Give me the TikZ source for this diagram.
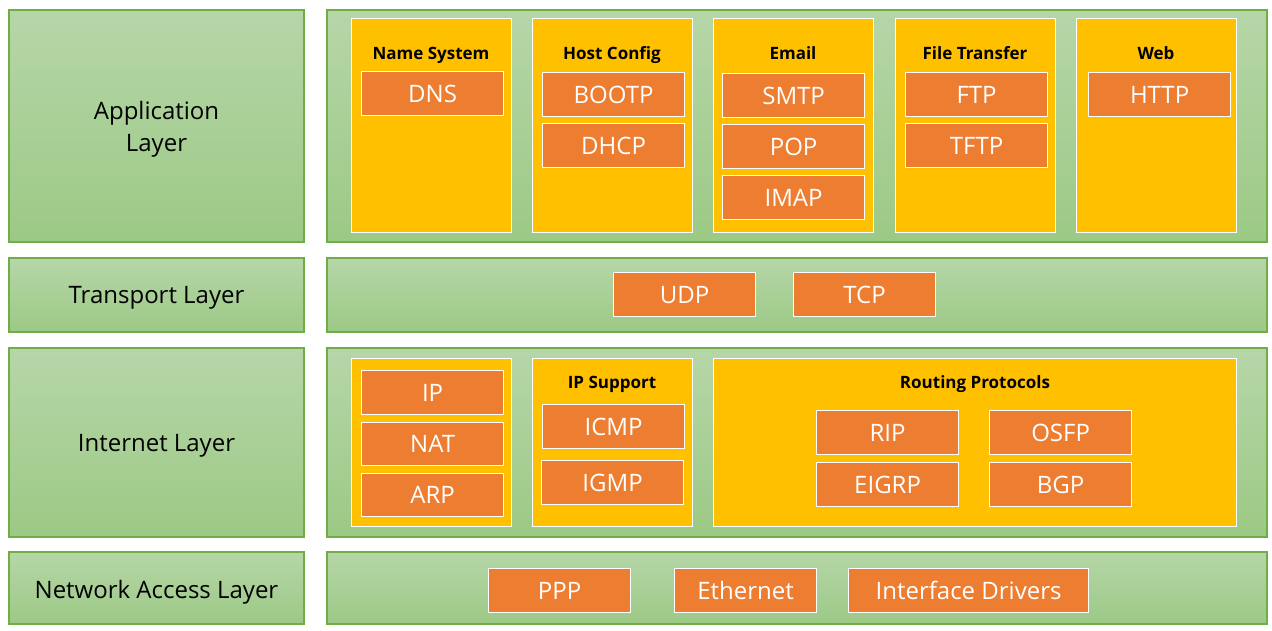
\documentclass[tikz,border=0pt]{standalone}
\usepackage{fontspec}
\setmainfont{Open Sans}
\definecolor{lgreen}{HTML}{70AD47}
\definecolor{gtop}{HTML}{B6D6A8}
\definecolor{gbot}{HTML}{9CC985}
\definecolor{ayellow}{HTML}{FFC000}
\definecolor{aorange}{HTML}{ED7D31}
\tikzset{
  layer/.style={draw=lgreen, line width=2pt, top color=gtop, bottom color=gbot, anchor=north west, inner sep=0pt},
  ltext/.style={inner sep=0pt, align=center, font=\fontsize{24}{32}\selectfont},
  group/.style={draw=white, line width=1.2pt, fill=ayellow, anchor=north west, inner sep=0pt},
  proto/.style={draw=white, line width=1.2pt, fill=aorange, text=white, anchor=north west, inner sep=0pt, minimum width=142pt, minimum height=44pt, font=\fontsize{24}{28}\selectfont},
  gtitle/.style={font=\bfseries\fontsize{17}{20}\selectfont, inner sep=0pt, anchor=base}
}
\begin{document}
\begin{tikzpicture}[x=1pt,y=-1pt]
\useasboundingbox (0,0) rectangle (1272,630);
% left layer labels
\node[layer, minimum width=295pt, minimum height=232pt] (appL) at (8,9) {};
\node[layer, minimum width=295pt, minimum height=74pt] (trL) at (8,257) {};
\node[layer, minimum width=295pt, minimum height=189pt] (inL) at (8,347) {};
\node[layer, minimum width=295pt, minimum height=72pt] (naL) at (8,551) {};
\node[ltext] (appLt) at ([yshift=-3pt]appL.center) {Application\\Layer};
\node[ltext] (trLt) at ([yshift=-3pt]trL.center) {Transport Layer};
\node[ltext] (inLt) at ([yshift=-3pt]inL.center) {Internet Layer};
\node[ltext] (naLt) at ([yshift=-4pt]naL.center) {Network Access Layer};
% right layer panels
\node[layer, minimum width=940pt, minimum height=232pt] (appR) at (326,9) {};
\node[layer, minimum width=940pt, minimum height=74pt] (trR) at (326,257) {};
\node[layer, minimum width=940pt, minimum height=189pt] (inR) at (326,347) {};
\node[layer, minimum width=940pt, minimum height=72pt] (naR) at (326,551) {};
% application groups
\node[group, minimum width=160pt, minimum height=214pt] (g1) at (351,18) {};
\node[group, minimum width=160pt, minimum height=214pt] (g2) at (532,18) {};
\node[group, minimum width=160pt, minimum height=214pt] (g3) at (713,18) {};
\node[group, minimum width=160pt, minimum height=214pt] (g4) at (895,18) {};
\node[group, minimum width=160pt, minimum height=214pt] (g5) at (1076,18) {};
\node[gtitle] (t1) at (431,59) {Name System};
\node[gtitle] (t2) at (612,59) {Host Config};
\node[gtitle] (t3) at (793,59) {Email};
\node[gtitle] (t4) at (975,59) {File Transfer};
\node[gtitle] (t5) at (1156,59) {Web};
\node[proto] (dns) at (361,71) {DNS};
\node[proto] (bootp) at (542,72) {BOOTP};
\node[proto] (dhcp) at (542,123) {DHCP};
\node[proto] (smtp) at (722,73) {SMTP};
\node[proto] (pop) at (722,124) {POP};
\node[proto] (imap) at (722,175) {IMAP};
\node[proto] (ftp) at (905,72) {FTP};
\node[proto] (tftp) at (905,123) {TFTP};
\node[proto] (http) at (1088,72) {HTTP};
% transport
\node[proto] (udp) at (613,272) {UDP};
\node[proto] (tcp) at (793,272) {TCP};
% internet groups
\node[group, minimum width=160pt, minimum height=168pt] (h1) at (351,358) {};
\node[group, minimum width=160pt, minimum height=168pt] (h2) at (532,358) {};
\node[group, minimum width=523pt, minimum height=168pt] (h3) at (713,358) {};
\node[gtitle] (s2) at (612,388) {IP Support};
\node[gtitle] (s3) at (975,388) {Routing Protocols};
\node[proto] (ip) at (361,370) {IP};
\node[proto, minimum height=43pt] (nat) at (361,422) {NAT};
\node[proto, minimum height=43pt] (arp) at (361,473) {ARP};
\node[proto] (icmp) at (542,404) {ICMP};
\node[proto] (igmp) at (541,460) {IGMP};
\node[proto] (rip) at (816,410) {RIP};
\node[proto] (osfp) at (989,410) {OSFP};
\node[proto] (eigrp) at (816,462) {EIGRP};
\node[proto] (bgp) at (989,462) {BGP};
% network access
\node[proto] (ppp) at (488,568) {PPP};
\node[proto] (eth) at (674,568) {Ethernet};
\node[proto, minimum width=240pt] (drv) at (848,568) {Interface Drivers};
\end{tikzpicture}
\end{document}
